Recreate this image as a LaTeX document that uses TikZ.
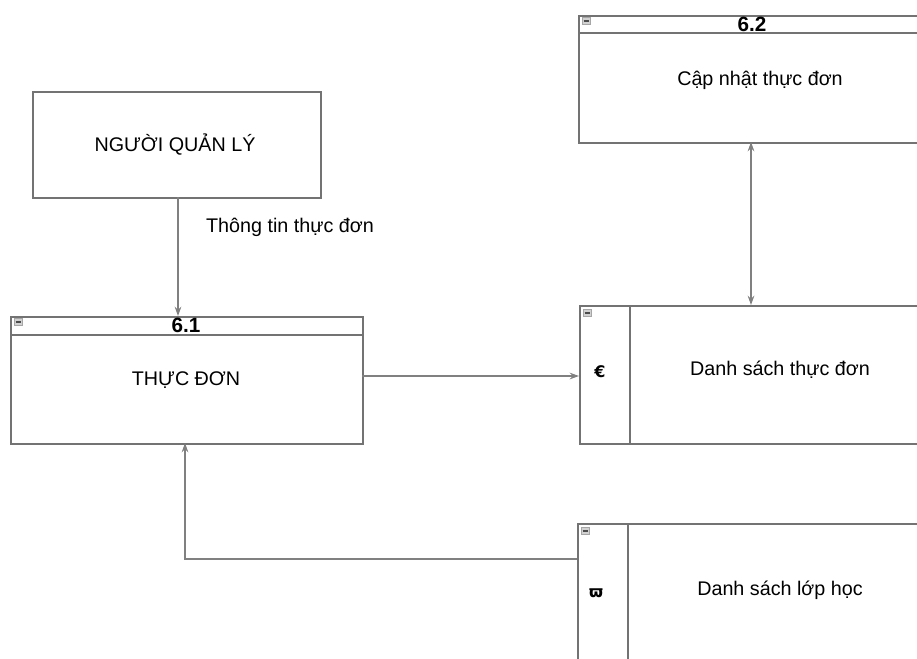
\documentclass[tikz,border=0pt]{standalone}
\usepackage{fontspec}
\setmainfont{Liberation Sans}
\newfontfamily\symfont{DejaVu Sans}
\usetikzlibrary{arrows.meta}
\tikzset{
  frame/.style={draw=black!55, line width=1.2pt},
  conn/.style={draw=black!50, line width=0.9pt},
  tip/.style={-{Stealth[length=7pt,width=5pt]}},
  lbl/.style={font=\fontsize{14.8}{17}\selectfont, inner sep=0pt},
  hdr/.style={font=\fontsize{15.5}{17}\selectfont\bfseries, inner sep=0pt},
  mini/.style={draw=black!35, fill=black!18, minimum width=6pt, minimum height=5pt, inner sep=0pt},
}
\newcommand{\minibox}[2]{\node[mini] at (#1,#2) {}; \draw[black!70, line width=0.8pt] (#1-2.5,#2) -- (#1+2.5,#2);}
\begin{document}
\begin{tikzpicture}[x=0.75pt,y=-0.75pt]
\useasboundingbox (0,0) rectangle (917,658);
\clip (0,0) rectangle (917,658);
% External entity
\node[frame, minimum width=288*0.75pt, minimum height=106*0.75pt, anchor=north west, inner sep=0pt] (mgr) at (32,91) {};
\node[lbl] at (175,145) {NGƯỜI QUẢN LÝ};
% Process 6.1
\node[frame, minimum width=352*0.75pt, minimum height=127*0.75pt, anchor=north west, inner sep=0pt] (p61) at (10,316) {};
\draw[frame] (10,335) -- (362,335);
\minibox{18}{322}
\node[hdr] at (186,325) {6.1};
\node[lbl] at (186,380) {THỰC ĐƠN};
% Process 6.2
\node[frame, minimum width=350*0.75pt, minimum height=127*0.75pt, anchor=north west, inner sep=0pt] (p62) at (578,15) {};
\draw[frame] (578,33) -- (928,33);
\minibox{586}{21}
\node[hdr] at (752,24) {6.2};
\node[lbl] at (760,80) {Cập nhật thực đơn};
% Data store 1
\node[frame, minimum width=350*0.75pt, minimum height=138*0.75pt, anchor=north west, inner sep=0pt] (ds1) at (579,305) {};
\draw[frame] (630,305) -- (630,443);
\minibox{587}{313}
\node[inner sep=0pt, font=\symfont\bfseries\fontsize{12}{13}\selectfont] at (600,372) {€};
\node[lbl] at (780,370) {Danh sách thực đơn};
% Data store 2
\node[frame, minimum width=350*0.75pt, minimum height=160*0.75pt, anchor=north west, inner sep=0pt] (ds2) at (577,523) {};
\draw[frame] (628,523) -- (628,683);
\minibox{585}{531}
\node[inner sep=0pt, font=\symfont\bfseries\fontsize{12}{13}\selectfont] at (596,593) {ϖ};
\node[lbl] at (780,590) {Danh sách lớp học};
% Connectors
\coordinate (a1) at (178,197);
\coordinate (a2) at (178,316);
\draw[conn, tip] (a1) -- (a2);
\node[lbl] at (290,227) {Thông tin thực đơn};
\coordinate (b1) at (362,376);
\coordinate (b2) at (579,376);
\draw[conn, tip] (b1) -- (b2);
\coordinate (c1) at (751,142);
\coordinate (c2) at (751,305);
\draw[conn, {Stealth[length=7pt,width=5pt]}-{Stealth[length=7pt,width=5pt]}] (c1) -- (c2);
\coordinate (d1) at (577,559);
\coordinate (d2) at (185,443);
\draw[conn, tip] (d1) -- (185,559) -- (d2);
\end{tikzpicture}
\end{document}
